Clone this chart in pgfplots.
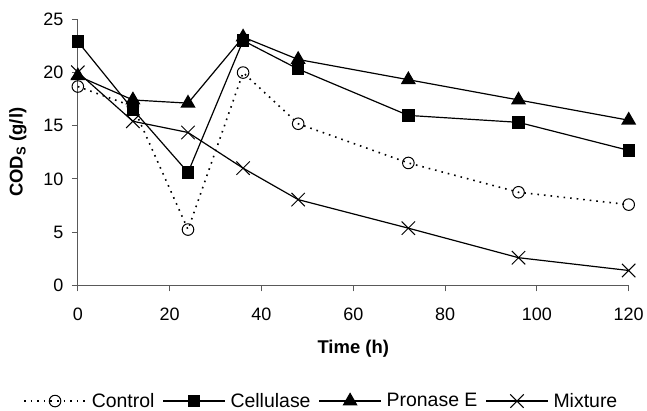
\documentclass[border=0pt]{standalone}
\usepackage{pgfplots}
\pgfplotsset{compat=1.18}
\usepackage{fontspec}
\setmainfont{Liberation Sans}
\begin{document}
\begin{tikzpicture}
\begin{axis}[
    scale only axis,
    width=552pt, height=267pt,
    xmin=0, xmax=120, ymin=0, ymax=25,
    xtick={0,20,...,120}, ytick={0,5,...,25},
    axis lines=left,
    axis line style={-, gray!70!black, line width=0.8pt},
    tick align=outside,
    major tick length=6pt,
    tick style={gray!70!black, line width=0.8pt},
    /pgf/number format/assume math mode=true,
    tick label style={font=\fontsize{18}{21}\selectfont},
    xticklabel style={yshift=-13pt},
    yticklabel style={xshift=-5pt},
    xlabel={\textbf{Time (h)}},
    ylabel={\textbf{COD\textsubscript{S} (g/l)}},
    xlabel style={at={(axis description cs:0.5,-0.237)}, anchor=center, font=\fontsize{18.5}{21}\selectfont},
    ylabel style={at={(axis description cs:-0.109,0.5)}, anchor=center, font=\fontsize{18.5}{21}\selectfont},
    legend columns=4,
    legend style={draw=none, at={(0.442,-0.434)}, anchor=center,
        font=\fontsize{19.5}{22}\selectfont, inner sep=0pt,
        /tikz/every odd column/.append style={column sep=3pt},
        /tikz/every even column/.append style={column sep=6pt}},
    legend image code/.code={%
        \draw[mark repeat=2, mark phase=2] plot coordinates {(0pt,0pt) (31pt,0pt) (62pt,0pt)};},
    clip=false,
]
\addplot[black, line width=1.6pt, dash pattern=on 1.6pt off 5pt, mark=o, mark size=5.8pt, mark options={solid, fill=white, line width=1pt}]
  coordinates {(0,18.66) (12,16.8) (24,5.24) (36,19.97) (48,15.17) (72,11.49) (96,8.74) (120,7.58)};
\addplot[black, line width=1.2pt, mark=square*, mark size=5.6pt, mark options={solid}]
  coordinates {(0,22.88) (12,16.5) (24,10.6) (36,22.97) (48,20.3) (72,15.95) (96,15.3) (120,12.67)};
\addplot[black, line width=1.2pt, mark=triangle*, mark size=7.5pt, mark options={solid}]
  coordinates {(0,19.66) (12,17.4) (24,17.1) (36,23.3) (48,21.2) (72,19.3) (96,17.4) (120,15.5)};
\addplot[black, line width=1.2pt, mark=x, mark size=9.5pt, mark options={solid, line width=1pt}]
  coordinates {(0,20.0) (12,15.4) (24,14.35) (36,11.0) (48,8.05) (72,5.37) (96,2.6) (120,1.4)};
\legend{Control, Cellulase, Pronase E, Mixture}
\end{axis}
\path (-78pt,-125pt) rectangle (569pt,286pt);
\end{tikzpicture}
\end{document}
